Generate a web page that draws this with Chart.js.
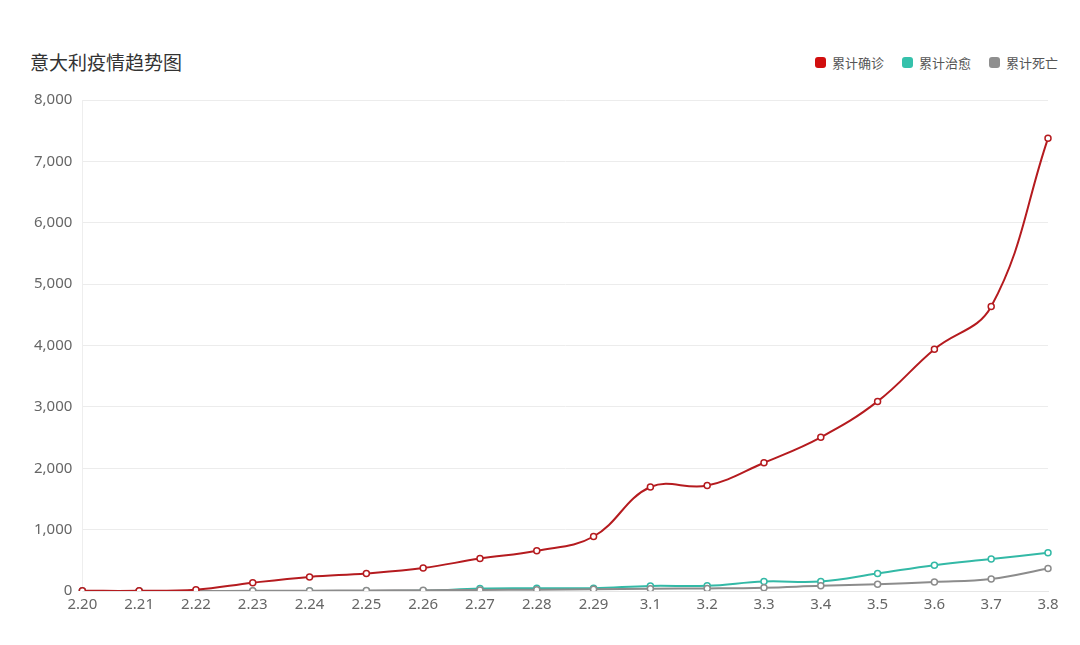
<!DOCTYPE html>
<html>
<head>
<meta charset="utf-8">
<script src="https://cdn.jsdelivr.net/npm/chart.js@4"></script>
<style>
  body { margin: 0; background: #fff; font-family: "Noto Sans CJK SC", "Noto Sans", sans-serif; }
  #wrap { position: relative; width: 1080px; height: 645px; }
  #title { position: absolute; left: 30px; top: 48px; font-size: 19px; color: #333; }
  #legend { position: absolute; right: 22px; top: 53px; display: flex; font-size: 13px; color: #555; }
  #legend span.item { display: flex; align-items: center; margin-left: 18px; }
  #legend i { display: inline-block; width: 11px; height: 11px; border-radius: 3px; margin-right: 6px; }
  canvas { position: absolute; left: 0; top: 0; }
</style>
</head>
<body>
<div id="wrap">
  <div id="title">意大利疫情趋势图</div>
  <div id="legend"></div>
  <canvas id="myChart" width="1080" height="645"></canvas>
</div>
<script>
const labels = ["2.20", "2.21", "2.22", "2.23", "2.24", "2.25", "2.26", "2.27", "2.28", "2.29",
  "3.1", "3.2", "3.3", "3.4", "3.5", "3.6", "3.7", "3.8"];
const confirmed = [3, 3, 20, 135, 230, 287, 375, 528, 655, 888, 1694, 1718, 2090, 2505, 3089, 3940, 4636, 7375];
const cured = [0, 0, 0, 1, 1, 1, 3, 40, 45, 46, 83, 85, 155, 155, 285, 420, 520, 622];
const deaths = [0, 0, 1, 3, 6, 10, 12, 17, 21, 29, 38, 42, 54, 85, 110, 148, 197, 366];
const seriesNames = ["累计确诊", "累计治愈", "累计死亡"];
const lineColors = ["#b51b1f", "#33b9a6", "#8c8c8c"];
const legendColors = ["#d10e0e", "#35c1ab", "#8f8f8f"];

const legend = document.getElementById("legend");
seriesNames.forEach((name, i) => {
  legend.insertAdjacentHTML("beforeend",
    `<span class="item"><i style="background:${legendColors[i]}"></i>${name}</span>`);
});

function makeSet(label, data, color, order) {
  return {
    label: label,
    data: data,
    borderColor: color,
    backgroundColor: "#fff",
    borderWidth: 2,
    pointRadius: 3,
    pointBorderWidth: 1.5,
    pointBackgroundColor: "#fff",
    pointBorderColor: color,
    tension: 0.4,
    order: order,
  };
}

new Chart(document.getElementById("myChart"), {
  type: "line",
  data: {
    labels: labels,
    datasets: [
      makeSet(seriesNames[0], confirmed, lineColors[0], 0),
      makeSet(seriesNames[1], cured, lineColors[1], 2),
      makeSet(seriesNames[2], deaths, lineColors[2], 1),
    ],
  },
  options: {
    responsive: false,
    animation: false,
    layout: { padding: { top: 100, right: 32, left: 24, bottom: 26 } },
    plugins: { legend: { display: false }, tooltip: { enabled: false } },
    scales: {
      x: {
        offset: false,
        grid: { display: false, drawTicks: false },
        border: { color: "#e6e6e6" },
        ticks: { color: "#666", font: { size: 15, family: "Noto Sans" }, padding: 5, maxRotation: 0, autoSkip: false },
      },
      y: {
        min: 0,
        max: 8000,
        ticks: { stepSize: 1000, color: "#666", font: { size: 15, family: "Noto Sans" }, padding: 10 },
        grid: { color: "#ececec", drawTicks: false },
        border: { color: "#eeeeee" },
      },
    },
  },
});
</script>
</body>
</html>
